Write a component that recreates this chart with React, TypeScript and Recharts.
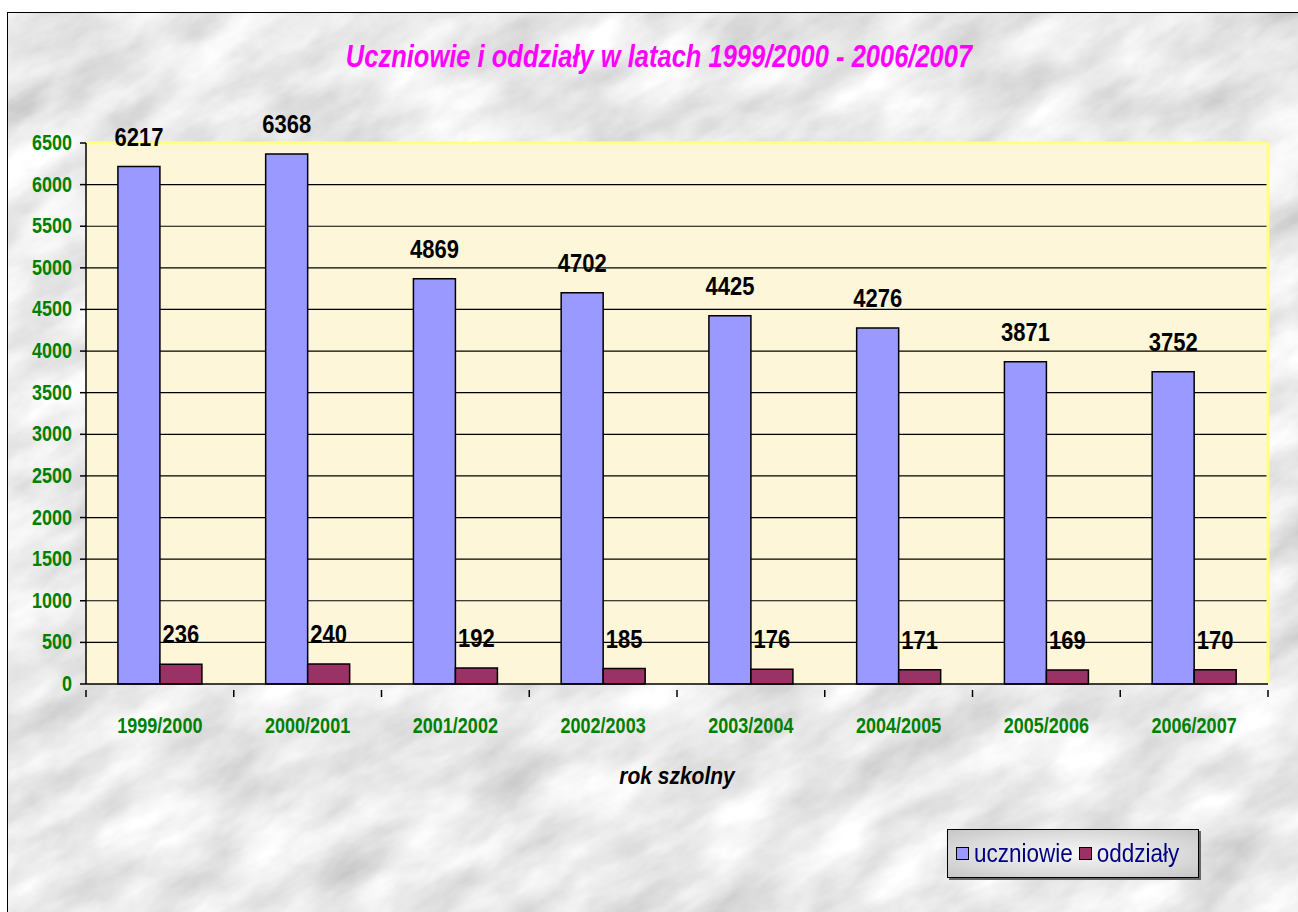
import { BarChart, Bar, XAxis, YAxis, CartesianGrid, LabelList } from "recharts";

const years = ["1999/2000", "2000/2001", "2001/2002", "2002/2003", "2003/2004", "2004/2005", "2005/2006", "2006/2007"];
const uczniowie = [6217, 6368, 4869, 4702, 4425, 4276, 3871, 3752];
const oddzialy = [236, 240, 192, 185, 176, 171, 169, 170];
const yTicks = [0, 500, 1000, 1500, 2000, 2500, 3000, 3500, 4000, 4500, 5000, 5500, 6000, 6500];
const series = [
  { key: "uczniowie", name: "uczniowie", color: "#9999FF" },
  { key: "oddzialy", name: "oddziały", color: "#993366" },
];

const data = years.map((year, i) => ({ year, uczniowie: uczniowie[i], oddzialy: oddzialy[i] }));

const FONT = "Arial, 'Liberation Sans', sans-serif";
const GREEN = "#008000";

function Stretched({ x, y, anchor = "middle", size, children, fill = "#000", italic = false, sy = 1.22 }: any) {
  return (
    <text
      transform={`translate(${x},${y}) scale(1,${sy})`}
      textAnchor={anchor}
      fill={fill}
      fontFamily={FONT}
      fontWeight="bold"
      fontStyle={italic ? "italic" : "normal"}
      fontSize={size}
    >
      {children}
    </text>
  );
}

function YTick(props: any) {
  const { x, y, payload } = props;
  return (
    <Stretched x={x} y={y + 7} anchor="end" size={18} fill={GREEN}>
      {payload.value}
    </Stretched>
  );
}

function XTick(props: any) {
  const { x, y, payload, width, visibleTicksCount, index } = props;
  const band = width && visibleTicksCount ? width / visibleTicksCount : 147.75;
  return (
    <g>
      <line x1={x - band / 2} x2={x - band / 2} y1={y - 2} y2={y + 5} stroke="#000" strokeWidth={1.5} />
      {index === visibleTicksCount - 1 && (
        <line x1={x + band / 2} x2={x + band / 2} y1={y - 2} y2={y + 5} stroke="#000" strokeWidth={1.5} />
      )}
      <Stretched x={x} y={y + 41} size={18} fill={GREEN}>
        {payload.value}
      </Stretched>
    </g>
  );
}

function BarValue(props: any) {
  const { x, y, width, value } = props;
  return (
    <Stretched x={x + width / 2} y={y - 21} size={22} sy={1.15}>
      {value}
    </Stretched>
  );
}

function XLabel(props: any) {
  const { viewBox } = props;
  return (
    <Stretched x={viewBox.x + viewBox.width / 2} y={784} size={21} italic sy={1.15}>
      rok szkolny
    </Stretched>
  );
}

function Marble() {
  return (
    <svg width={1298} height={912} style={{ position: "absolute", left: 0, top: 0 }}>
      <filter id="marble">
        <feTurbulence type="fractalNoise" baseFrequency="0.01 0.022" numOctaves={5} seed={11} />
        <feColorMatrix type="matrix" values="0 0 0 0.6 0.52  0 0 0 0.6 0.52  0 0 0 0.6 0.52  0 0 0 0 1" />
      </filter>
      <g transform="rotate(-30 649 456)">
        <rect x={-400} y={-400} width={2100} height={1700} filter="url(#marble)" />
      </g>
    </svg>
  );
}

export default function App() {
  return (
    <div style={{ position: "absolute", left: 0, top: 0, width: 1298, height: 912, overflow: "hidden", background: "#fff" }}>
      <div
        style={{
          position: "absolute",
          left: 7,
          top: 12,
          width: 1291,
          height: 900,
          overflow: "hidden",
          borderLeft: "1.5px solid #000",
          borderTop: "1.5px solid #000",
          background: "#d8d8d8",
        }}
      >
        <div style={{ position: "absolute", left: -7, top: -12 }}>
          <Marble />
        </div>
      </div>
      <svg width={1298} height={100} style={{ position: "absolute", left: 0, top: 0 }}>
        <Stretched x={659} y={67} size={25.5} fill="#FF00FF" italic sy={1.2}>
          Uczniowie i oddziały w latach 1999/2000 - 2006/2007
        </Stretched>
      </svg>
      <div style={{ position: "absolute", left: 0, top: 0 }}>
        <BarChart
          width={1298}
          height={912}
          data={data}
          margin={{ top: 143, right: 30, left: 0, bottom: 118 }}
          barCategoryGap="21.6%"
          barGap={0}
        >
          <CartesianGrid
            vertical={false}
            stroke="#000"
            strokeWidth={1.2}
            fill="#FDF6D9"
            fillOpacity={1}
            horizontalCoordinatesGenerator={({ offset }: any) =>
              yTicks.slice(1, -1).map((t) => offset.top + offset.height - (t / 6500) * offset.height)
            }
          />
          <CartesianGrid
            stroke="#FFFF80"
            strokeWidth={3}
            horizontalCoordinatesGenerator={({ offset }: any) => [offset.top]}
            verticalCoordinatesGenerator={({ offset }: any) => [offset.left + offset.width]}
          />
          <XAxis
            dataKey="year"
            height={110}
            axisLine={{ stroke: "#000", strokeWidth: 1.5 }}
            tickLine={false}
            tick={<XTick />}
            interval={0}
            label={<XLabel />}
          />
          <YAxis
            width={86}
            domain={[0, 6500]}
            ticks={yTicks}
            interval={0}
            axisLine={{ stroke: "#000", strokeWidth: 1.5 }}
            tickLine={{ stroke: "#000", strokeWidth: 1.5 }}
            tickSize={6}
            tickMargin={8}
            tick={<YTick />}
          />
          {series.map((s) => (
            <Bar key={s.key} dataKey={s.key} name={s.name} fill={s.color} stroke="#000" strokeWidth={1.5} isAnimationActive={false}>
              <LabelList dataKey={s.key} content={<BarValue />} />
            </Bar>
          ))}
        </BarChart>
      </div>
      <div
        style={{
          position: "absolute",
          left: 947,
          top: 829,
          width: 252,
          height: 49,
          border: "1.5px solid #000",
          background: "radial-gradient(ellipse at center, #f6f6f6 0%, #dcdcdc 60%, #c6c6c6 100%)",
          boxShadow: "2px 2px 0 #666",
          display: "flex",
          alignItems: "center",
          paddingLeft: 8,
          boxSizing: "border-box",
          fontFamily: FONT,
          fontSize: 22.5,
          color: "#000080",
        }}
      >
        {series.map((s) => (
          <span key={s.key} style={{ display: "flex", alignItems: "center", marginRight: 6 }}>
            <span style={{ width: 11, height: 11, background: s.color, border: "1.5px solid #000", marginRight: 5 }} />
            <span style={{ display: "inline-block", transform: "scaleY(1.12)" }}>{s.name}</span>
          </span>
        ))}
      </div>
    </div>
  );
}
